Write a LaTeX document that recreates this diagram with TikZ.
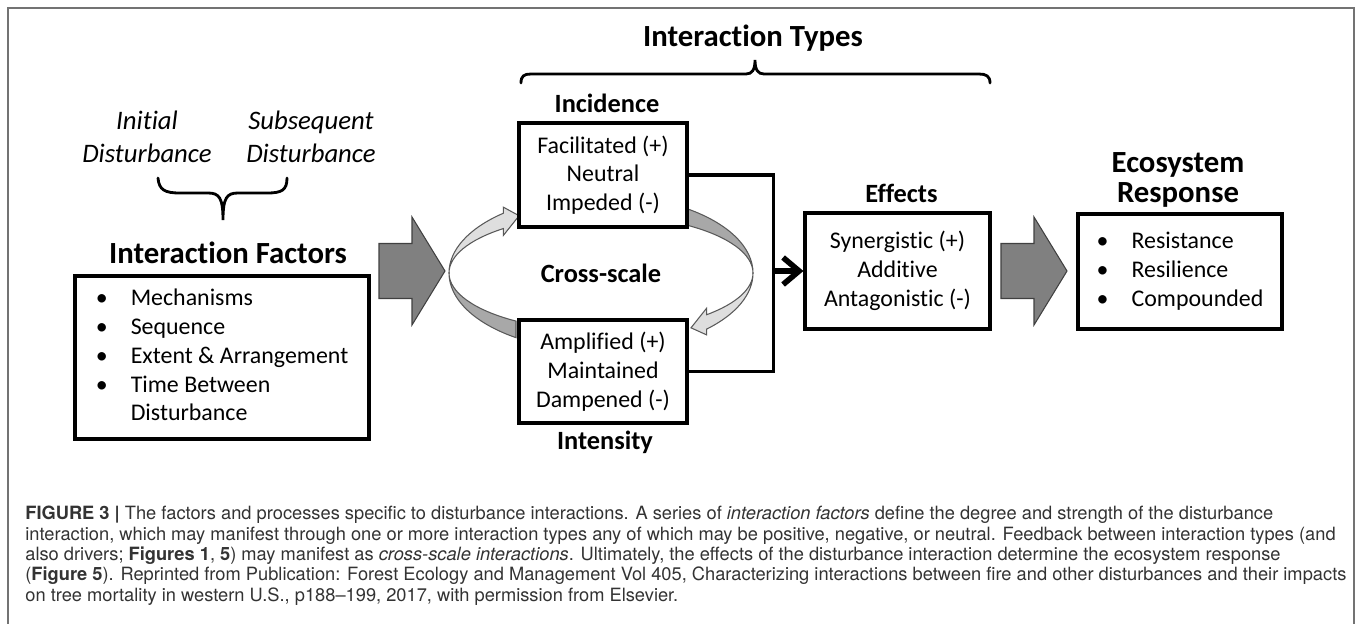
\documentclass[tikz,border=0pt]{standalone}
\usepackage{fontspec}
\setmainfont{Carlito}[Ligatures=NoCommon]
\newfontfamily\capfont{TeX Gyre Heros}
\usetikzlibrary{calc,arrows.meta}
\definecolor{ribbondark}{HTML}{A8A8A8}
\definecolor{ribbonlight}{HTML}{DEDEDE}
\tikzset{
  outline/.style  = {black!55, line width=1pt},
  heading/.style  = {font=\bfseries\fontsize{17.5}{17}\selectfont, align=center,
                     inner sep=0pt},
  subhead/.style  = {font=\bfseries\fontsize{15}{17}\selectfont, inner sep=0pt},
  disturb/.style  = {font=\itshape\fontsize{15.2}{18.8}\selectfont, align=center,
                     inner sep=0pt},
  typebox/.style  = {draw, line width=1.8pt, fill=white, align=center, inner sep=0pt,
                     font=\fontsize{13.6}{16.4}\selectfont},
  curly/.style    = {line width=1.6pt, line cap=round},
  link/.style     = {line width=1.9pt},
  feed/.style     = {line width=3.2pt, -{Straight Barb[length=3.2mm, width=5.4mm]}},
  bigarrow/.style = {fill=black!50, draw=black!75, line width=0.6pt},
  ribbon/.style   = {draw=black!65, line width=0.6pt},
  caption/.style  = {font=\capfont\fontsize{10.4}{11.55}\selectfont, text=black!80,
                     align=left, inner sep=0pt},
}

\begin{document}
\begin{tikzpicture}[x=1cm, y=1cm]
    \useasboundingbox (0,0) rectangle (27.14,-12.46);
    \draw[outline] (0.16,-12.8) -- (0.16,-0.16) -- (27.08,-0.16) -- (27.08,-12.8);

    % left part: the two disturbances feeding the factors
    \node[disturb] (init) at (2.94,-2.74) {Initial\\Disturbance};
    \node[disturb] (subs) at (6.22,-2.74) {Subsequent\\Disturbance};
    \draw[curly] (3.16,-3.56) .. controls (3.18,-3.8) and (3.3,-3.86) .. (3.6,-3.86)
        -- (4.16,-3.86) .. controls (4.38,-3.86) and (4.46,-3.95) .. (4.46,-4.4)
        .. controls (4.46,-3.95) and (4.54,-3.86) .. (4.76,-3.86) -- (5.34,-3.86)
        .. controls (5.64,-3.86) and (5.74,-3.8) .. (5.74,-3.56);

    \node[heading] (facname) at (4.56,-5.06) {Interaction Factors};
    \node[typebox, minimum width=5.88cm, minimum height=3.26cm] (fac) at (4.44,-7.15)
        {\begin{tabular}{@{}p{0.7cm}@{}l@{}}
         \textbullet & Mechanisms\\
         \textbullet & Sequence\\
         \textbullet & Extent \& Arrangement\\
         \textbullet & Time Between\\
                     & Disturbance
         \end{tabular}};

    \draw[bigarrow] (7.58,-4.87) -- ++(0.66,0) -- ++(0,0.53) -- ++(0.66,-1.08)
        -- ++(-0.66,-1.08) -- ++(0,0.53) -- ++(-0.66,0) -- cycle;

    % interaction types
    \node[heading] (types) at (15.06,-0.76) {Interaction Types};
    \draw[curly] (10.42,-1.66) .. controls (10.42,-1.52) and (10.48,-1.48) .. (10.62,-1.48)
        -- (14.92,-1.48) .. controls (15.04,-1.48) and (15.1,-1.4) .. (15.1,-1.2)
        .. controls (15.1,-1.4) and (15.16,-1.48) .. (15.28,-1.48) -- (19.58,-1.48)
        .. controls (19.72,-1.48) and (19.8,-1.52) .. (19.8,-1.66);

    \node[subhead] (cross) at (12.02,-5.46) {Cross-scale};

    % The ring is a tilted ribbon: same x radius, two y radii, so both
    % edges meet where it turns over at the far left and right.
    \begin{scope}[shift={(cross)}]
        \filldraw[ribbon, fill=ribbondark] (236:3.04 and 1.56)
            arc[start angle=236, end angle=180, x radius=3.04, y radius=1.56]
            -- (180:3.04 and 1.16)
            arc[start angle=180, end angle=236, x radius=3.04, y radius=1.16] -- cycle;
        \filldraw[ribbon, fill=ribbonlight] (180:3.04 and 1.56)
            arc[start angle=180, end angle=130, x radius=3.04, y radius=1.56]
            -- (130:3.04 and 1.72) -- (122.6:3.04 and 1.36) -- (130:3.04 and 0.98)
            -- (130:3.04 and 1.16)
            arc[start angle=130, end angle=180, x radius=3.04, y radius=1.16] -- cycle;
        \filldraw[ribbon, fill=ribbondark] (55.5:3.04 and 1.56)
            arc[start angle=55.5, end angle=0, x radius=3.04, y radius=1.56]
            -- (0:3.04 and 1.16)
            arc[start angle=0, end angle=55.5, x radius=3.04, y radius=1.16] -- cycle;
        \filldraw[ribbon, fill=ribbonlight] (0:3.04 and 1.56)
            arc[start angle=0, end angle=-46, x radius=3.04, y radius=1.56]
            -- (-46:3.04 and 1.72) -- (-53.7:3.04 and 1.36) -- (-46:3.04 and 0.98)
            -- (-46:3.04 and 1.16)
            arc[start angle=-46, end angle=0, x radius=3.04, y radius=1.16] -- cycle;
    \end{scope}

    \node[subhead] (incname) at (12.14,-2.06) {Incidence};
    \node[typebox, minimum width=3.36cm, minimum height=2.08cm] (inc) at (12.06,-3.5)
        {Facilitated (+)\\Neutral\\Impeded (-)};
    \node[typebox, minimum width=3.36cm, minimum height=2.06cm] (int) at (12.06,-7.43)
        {Amplified (+)\\Maintained\\Dampened (-)};
    \node[subhead] (intname) at (12.1,-8.84) {Intensity};

    % effects
    \node[subhead] (effname) at (18.03,-3.86) {Effects};
    \node[typebox, minimum width=3.7cm, minimum height=2.32cm] (eff) at (17.95,-5.42)
        {Synergistic (+)\\Additive\\Antagonistic (-)};

    \draw[link] (inc.east) -- ++(1.7,0) coordinate (bk) |- (int.east);
    \draw[feed] (bk |- eff.west) -- (eff.west);

    \draw[bigarrow] (20.02,-4.87) -- ++(0.66,0) -- ++(0,0.53) -- ++(0.66,-1.08)
        -- ++(-0.66,-1.08) -- ++(0,0.53) -- ++(-0.66,0) -- cycle;

    % response
    \node[heading] (resname) at (23.56,-3.6) {Ecosystem\\Response};
    \node[typebox, minimum width=4.08cm, minimum height=2.3cm] (res) at (23.6,-5.43)
        {\begin{tabular}{@{}p{0.7cm}@{}l@{}}
         \textbullet & Resistance\\
         \textbullet & Resilience\\
         \textbullet & Compounded
         \end{tabular}};

    \node[caption, anchor=north west] (cap) at (0.5,-10.12)
        {\textbf{FIGURE 3 |} The factors and processes specific to disturbance interactions. A series of \textit{interaction factors} define the degree and strength of the disturbance\\
         interaction, which may manifest through one or more interaction types any of which may be positive, negative, or neutral. Feedback between interaction types (and\\
         also drivers; \textbf{Figures 1}, \textbf{5}) may manifest as \textit{cross-scale interactions}. Ultimately, the effects of the disturbance interaction determine the ecosystem response\\
         (\textbf{Figure 5}). Reprinted from Publication: Forest Ecology and Management Vol 405, Characterizing interactions between fire and other disturbances and their impacts\\
         on tree mortality in western U.S., p188\textendash 199, 2017, with permission from Elsevier.};
\end{tikzpicture}
\end{document}
